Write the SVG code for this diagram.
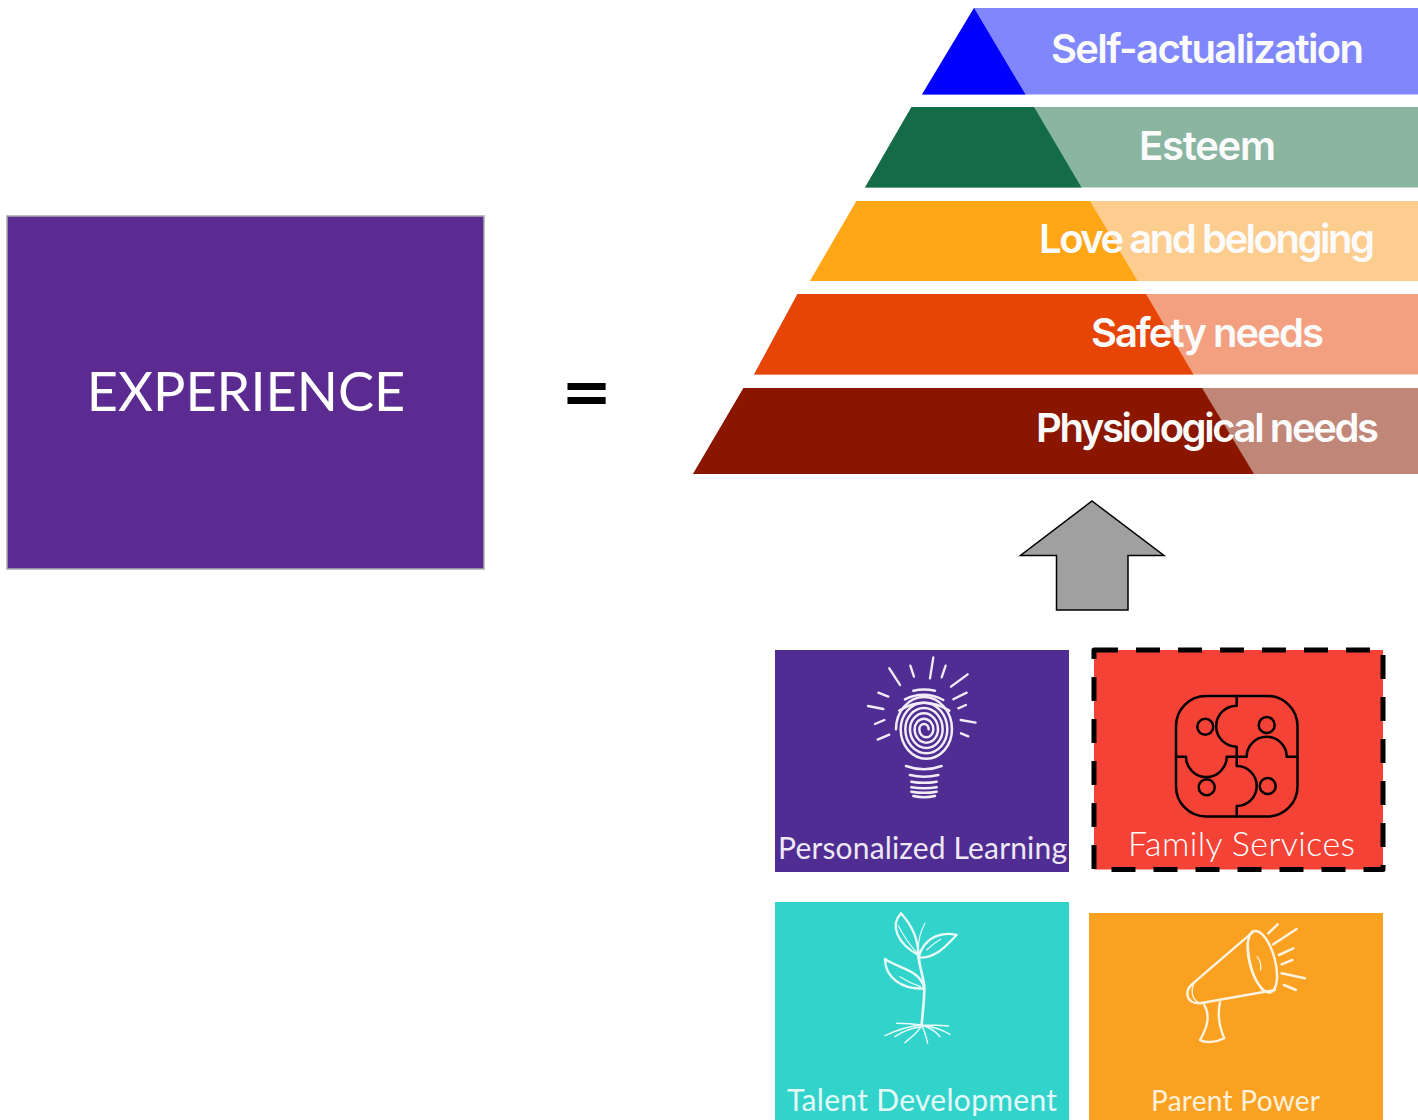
<svg xmlns="http://www.w3.org/2000/svg" width="1418" height="1120" viewBox="0 0 1418 1120">
<style>
.pt{font-family:"Inter","Liberation Sans",sans-serif;font-weight:600;font-size:40px;fill:#fbfbfb;text-anchor:start}
.tl{font-family:"Lato","Noto Sans",sans-serif;font-size:30px;text-anchor:start}
.ln{fill:none;stroke-linecap:round;stroke-linejoin:round}
.w{stroke:#f1ecf5}
</style>
<rect width="1418" height="1120" fill="#fff"/>
<g id="experience">
<rect x="7" y="216" width="477" height="353" fill="#5C2B92" stroke="#ababab" stroke-width="1.5"/>
<text x="246" y="411" text-anchor="middle" font-family="Lato,'Noto Sans',sans-serif" font-size="54" fill="#fff">EXPERIENCE</text>
</g>
<g id="equals"><text x="586.500" y="413" text-anchor="middle" font-family="'DejaVu Sans',sans-serif" font-weight="700" font-size="61" fill="#000">=</text></g>
<g id="level-self">
<polygon points="974,8 1418,8 1418,94.500 922,94.500" fill="#8087FD"/>
<polygon points="974,8 1025.500,94.500 922,94.500" fill="#0000FF"/>
<text class="pt" x="1051" y="63" textLength="313" lengthAdjust="spacing">Self-actualization</text>
</g>
<g id="level-esteem">
<polygon points="911.500,107 1418,107 1418,187.500 865,187.500" fill="#8AB5A0"/>
<polygon points="911.500,107 1034,107 1081.500,187.500 865,187.500" fill="#136B47"/>
<text class="pt" x="1139" y="160" textLength="137" lengthAdjust="spacing">Esteem</text>
</g>
<g id="level-love">
<polygon points="856.500,201 1418,201 1418,281 810,281" fill="#FCCD8E"/>
<polygon points="856.500,201 1090,201 1137.500,281 810,281" fill="#FFA616"/>
<text class="pt" x="1039" y="253" textLength="336" lengthAdjust="spacing">Love and belonging</text>
</g>
<g id="level-safety">
<polygon points="797.500,294 1418,294 1418,374.500 754,374.500" fill="#F3A081"/>
<polygon points="797.500,294 1146,294 1193.500,374.500 754,374.500" fill="#E64506"/>
<text class="pt" x="1091" y="347" textLength="233" lengthAdjust="spacing">Safety needs</text>
</g>
<g id="level-physiological">
<polygon points="743.500,388 1418,388 1418,474 693,474" fill="#C08678"/>
<polygon points="743.500,388 1202,388 1254,474 693,474" fill="#8A1600"/>
<text class="pt" x="1036" y="442" textLength="343" lengthAdjust="spacing">Physiological needs</text>
</g>
<g id="connectors">
<polygon points="1092,501 1164,555.500 1128,555.500 1128,610 1056.500,610 1056.500,555.500 1020.500,555.500" fill="#A0A0A0" stroke="#000" stroke-width="1.500" stroke-linejoin="miter"/>
</g>
<g id="personalized-learning">
<rect x="775" y="650" width="294" height="222" fill="#4F2D92"/>
<g transform="translate(770 640) scale(.3333)" class="ln w">
<path d="M358 85L390 135M421 77L432 110M490 52L480 115M527 77L515 112M593 103L543 140M590 158L550 178M588 195L565 205M572 240L617 248M573 280L595 289M325 158L355 170M294 198L340 207M315 252L343 240M323 299L358 284" stroke-width="7"/>
<path d="M378 268A84 97 0 0 1 546 268A77 88 0 0 1 392 268A70 80 0 0 1 532 268A63 72 0 0 1 406 268A56 64 0 0 1 518 268A49 56 0 0 1 420 268A42 48 0 0 1 504 268A35 40 0 0 1 434 268A28 32 0 0 1 490 268A21 24 0 0 1 448 268A14 16 0 0 1 476 268" stroke-width="7.500"/>
<path d="M430 152Q462 145 495 152M405 178Q462 150 520 180M388 212Q462 165 538 212M408 378Q462 398 515 378M420 405Q462 415 505 405M424 425Q462 432 500 425M424 442Q462 448 500 442M424 455Q462 462 500 455M430 468Q462 475 495 468" stroke-width="7.500"/>
</g>
<text class="tl" x="778" y="859" textLength="289" lengthAdjust="spacing" fill="#eee8f4">Personalized Learning</text>
</g>
<g id="family-services">
<rect x="1094" y="650" width="289" height="219.500" fill="#F44336" stroke="#000" stroke-width="5" stroke-dasharray="24 18" stroke-linejoin="round"/>
<g class="ln" stroke="#000" stroke-width="2.500" fill="none">
<rect x="1176" y="696" width="121.500" height="120.500" rx="30"/>
<path d="M1236.700 696V705.700A20.500 20.500 0 0 0 1236.700 746.700V766A20 20 0 0 1 1236.700 806V816.500"/>
<path d="M1176 756.700H1186A20.300 20.300 0 0 0 1226.700 756.700H1246.700A20 20 0 0 1 1286.700 756.700H1297.500"/>
<circle cx="1205.300" cy="726.700" r="8"/><circle cx="1266.700" cy="725" r="8"/><circle cx="1206.700" cy="787.300" r="8"/><circle cx="1267.700" cy="786" r="8"/>
</g>
<text x="1128" y="856" textLength="227" lengthAdjust="spacing" font-family="Lato,'Noto Sans',sans-serif" font-weight="300" font-size="34" fill="#fff">Family Services</text>
</g>
<g id="talent-development">
<rect x="775" y="902" width="294" height="218" fill="#31D3CB"/>
<g transform="translate(770 895) scale(.3333)" class="ln w" style="stroke:#e9fbfa">
<path d="M445 180C450 230 463 250 463 280C463 320 458 350 455 390" stroke-width="8"/>
<path d="M445 180C380 145 360 90 393 55C420 85 445 125 445 180ZM445 188C500 190 530 150 560 120C520 110 465 120 445 188ZM463 280C400 285 345 250 345 192C390 222 450 225 463 280Z" stroke-width="7"/>
<path d="M385 92Q410 140 440 172M465 85Q445 120 445 165M470 165Q490 145 512 133M390 245Q420 265 452 275" stroke-width="3.500"/>
<path d="M455 390Q400 395 345 422M455 390Q420 385 380 385M455 395Q410 400 375 425M455 395Q435 420 405 443M455 390Q465 410 473 445M455 390Q490 400 510 425M455 390Q500 395 540 418M455 390Q500 390 535 393" stroke-width="4.500"/>
</g>
<text class="tl" x="787" y="1111" textLength="270" lengthAdjust="spacing" fill="#e4f9f8">Talent Development</text>
</g>
<g id="parent-power">
<rect x="1089" y="913" width="294" height="207" fill="#FBA122"/>
<g transform="translate(1085 905) scale(.3333)" class="ln w" style="stroke:#fdf3e0">
<path d="M505 80L330 230C295 255 300 295 345 295L570 255" stroke-width="7.500"/>
<ellipse cx="532" cy="170" rx="38" ry="95" transform="rotate(-15 532 170)" stroke-width="7.500"/>
<path d="M490 110C490 170 510 225 535 262" stroke-width="4"/>
<path d="M516 155Q530 170 527 195" stroke-width="4"/>
<path d="M330 230C315 255 320 285 345 295" stroke-width="4"/>
<path d="M358 300C378 335 365 370 345 405C360 415 395 412 418 400C400 360 398 325 405 292" stroke-width="7"/>
<path d="M578 58L550 85M635 72L565 118M625 130L582 150M622 165L590 178M660 220L590 205M633 255L597 240" stroke-width="7.500"/>
</g>
<text class="tl" x="1151" y="1111" textLength="169" lengthAdjust="spacing" style="font-size:28px" fill="#fdf1dc">Parent Power</text>
</g>
</svg>
